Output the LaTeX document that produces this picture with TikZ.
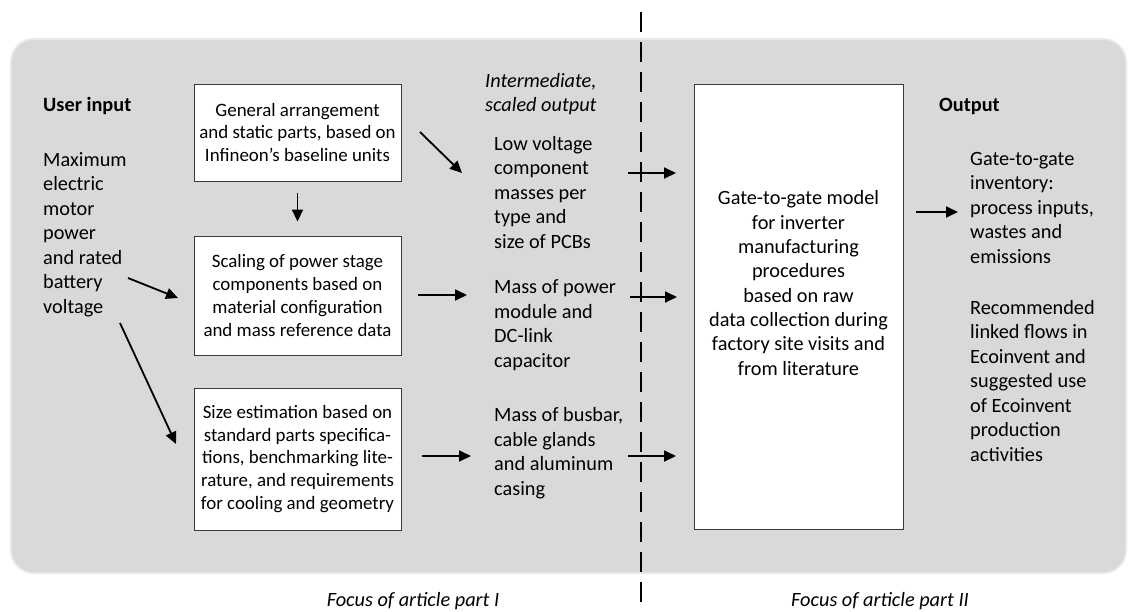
\documentclass[tikz,border=0pt]{standalone}
\usepackage{fontspec}
\setmainfont{Carlito}
\usetikzlibrary{arrows.meta,calc}
\definecolor{bggray}{HTML}{D9D9D9}
\definecolor{boxline}{HTML}{3A3A3A}
\begin{document}
\begin{tikzpicture}[x=1pt,y=-1pt,
  txt/.style={inner sep=0pt,anchor=base west,align=left,font=\fontsize{20.3}{24.5}\selectfont},
  hd/.style={txt,font=\fontsize{20.3}{24.5}\selectfont\bfseries},
  itx/.style={txt,font=\fontsize{20.3}{24}\selectfont\itshape},
  stepbox/.style={draw=boxline,line width=0.9pt,fill=white,inner sep=0pt,align=center,
    minimum width=207pt,font=\fontsize{18.9}{22.7}\selectfont},
  arr/.style={line width=1.8pt,-{Triangle[length=12pt,width=11pt]}}]
\useasboundingbox (0,0) rectangle (1128,611);
% background with a soft edge
\fill[bggray!60,rounded corners=24pt] (10,38) rectangle (1127,574);
\fill[bggray,rounded corners=22pt] (12,40) rectangle (1125,572);
% dashed divider
\coordinate (dtop) at (641,12);
\coordinate (dbot) at (641,606);
\draw[line width=1.3pt,dash pattern=on 20pt off 10pt] (dtop) -- (dbot);
% boxes
\node[stepbox,minimum height=97pt] (b1) at (297.5,132.5)
  {General arrangement\\and static parts, based on\\Infineon’s baseline units};
\node[stepbox,minimum height=119pt] (b2) at (297.5,295.5)
  {Scaling of power stage\\components based on\\material configuration\\and mass reference data};
\node[stepbox,minimum height=142pt] (b3) at (297.5,459)
  {Size estimation based on\\standard parts specifica-\\tions, benchmarking lite-\\rature, and requirements\\for cooling and geometry};
\node[draw=boxline,line width=0.9pt,fill=white,minimum width=209pt,minimum height=445pt,inner sep=0pt] (big) at (798.5,306.5) {};
\node[inner sep=0pt,align=center,font=\fontsize{20.3}{24.3}\selectfont] (bigt) at (798.5,283)
  {Gate-to-gate model\\for inverter\\manufacturing\\procedures\\based on raw\\data collection during\\factory site visits and\\from literature};
% texts (anchored at the baseline of the last line)
\node[hd] (uin) at (43,111) {User input};
\node[txt] (umax) at (43,313) {Maximum\\electric\\motor\\power\\and rated\\battery\\voltage};
\node[itx] (interm) at (485,111) {Intermediate,\\scaled output};
\node[txt] (lv) at (494,248) {Low voltage\\component\\masses per\\type and\\size of PCBs};
\node[txt] (mp) at (494,367) {Mass of power\\module and\\DC-link\\capacitor};
\node[txt] (mb) at (494,495) {Mass of busbar,\\cable glands\\and aluminum\\casing};
\node[hd] (out) at (939,111) {Output};
\node[txt] (inv) at (970,263) {Gate-to-gate\\inventory:\\process inputs,\\wastes and\\emissions};
\node[txt] (rec) at (970,461) {Recommended\\linked flows in\\Ecoinvent and\\suggested use\\of Ecoinvent\\production\\activities};
\node[itx,anchor=base] (f1) at (413,606) {Focus of article part I};
\node[itx,anchor=base] (f2) at (880,606) {Focus of article part II};
% connector end points
\coordinate (u1s) at (128,278); \coordinate (u1e) at (178,298);
\coordinate (u2s) at (120,323); \coordinate (u2e) at (176,444);
\coordinate (b1s) at (420,132); \coordinate (b1e) at (462,173);
\coordinate (b2s) at (418,295); \coordinate (b2e) at (467,295);
\coordinate (b3s) at (422,456); \coordinate (b3e) at (471,456);
\coordinate (lvs) at (628,173); \coordinate (lve) at (676,173);
\coordinate (mps) at (630,297); \coordinate (mpe) at (677,297);
\coordinate (mbs) at (628,456); \coordinate (mbe) at (676,456);
\coordinate (bgs) at (916,212); \coordinate (bge) at (958,212);
% arrows
\draw[arr] ([yshift=-12pt]b1.south) -- ([yshift=14pt]b2.north);
\draw[arr] (u1s) -- (u1e);
\draw[arr] (u2s) -- (u2e);
\draw[arr] (b1s) -- (b1e);
\draw[arr] (b2s) -- (b2e);
\draw[arr] (b3s) -- (b3e);
\draw[arr] (lvs) -- (lve);
\draw[arr] (mps) -- (mpe);
\draw[arr] (mbs) -- (mbe);
\draw[arr] (bgs) -- (bge);
\end{tikzpicture}
\end{document}
